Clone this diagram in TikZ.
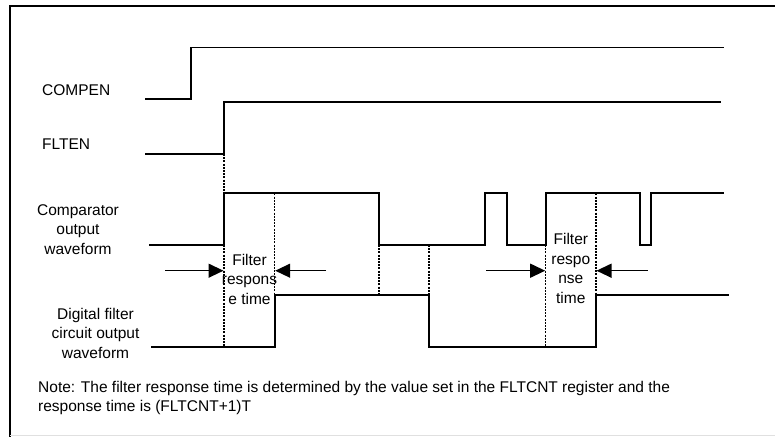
\documentclass[tikz,border=0pt]{standalone}
\usepackage{fontspec}
\setmainfont{Liberation Sans}
\usetikzlibrary{arrows.meta}
\begin{document}
\begin{tikzpicture}[x=1pt,y=-1pt,
  wave/.style={line width=1.7pt, line join=miter},
  guide/.style={line width=1.2pt, dash pattern=on 2pt off 1.2pt},
  lbl/.style={font=\fontsize{15.5}{19.5}\selectfont, inner sep=0pt, align=center},
  meas/.style={line width=1.3pt, -{Triangle[length=15pt,width=14pt]}},
]
\useasboundingbox (0,0) rectangle (775,436);
\draw[line width=2.3pt] (10,437) -- (10,6) -- (776,6);
\draw[black!12, line width=0.8pt] (10,435.5) -- (775,435.5);

% COMPEN
\draw[wave] (145,99) -- (191,99) -- (191,47.5) -- (724,47.5);
% FLTEN
\draw[wave] (145,153.7) -- (224,153.7) -- (224,102) -- (721,102);
% comparator output
\draw[wave] (149,245) -- (224,245) -- (224,193.3) -- (379,193.3) -- (379,245)
  -- (485,245) -- (485,193.3) -- (507,193.3) -- (507,245) -- (545.7,245)
  -- (545.7,193.3) -- (640.3,193.3) -- (640.3,245) -- (651.3,245)
  -- (651.3,193.3) -- (724,193.3);
% digital filter output
\draw[wave] (151,346.7) -- (274.7,346.7) -- (274.7,295.3) -- (429,295.3)
  -- (429,346.7) -- (596,346.7) -- (596,295.3) -- (729,295.3);

% guides
\draw[guide] (224,154) -- (224,193.3);
\draw[guide] (224,245) -- (224,346.7);
\draw[guide] (274.7,193.3) -- (274.7,295.3);
\draw[guide] (379,245) -- (379,295.3);
\draw[guide] (429,245) -- (429,295.3);
\draw[guide] (545.7,245) -- (545.7,346.7);
\draw[guide] (596,193.3) -- (596,295.3);

% labels
\node[lbl, anchor=west] (compen) at (42,90) {COMPEN};
\node[lbl, anchor=west] (flten) at (42,144) {FLTEN};
\node[lbl] (comp) at (78,229.5) {Comparator\\output\\waveform};
\node[lbl] (dig) at (95.5,333) {Digital filter\\circuit output\\waveform};
\node[lbl] (fl) at (249.5,279.3) {Filter\\respons\\e time};
\node[lbl] (fr) at (570.8,268.5) {Filter\\respo\\nse\\time};
\node[lbl, anchor=west, align=left] (note) at (38,398)
  {Note: The filter response time is determined by the value set in the FLTCNT register and the\\response time is (FLTCNT+1)T};

% measurement arrows
\coordinate (a1s) at (165,270.7);
\coordinate (a1e) at (223.5,270.7);
\coordinate (a2s) at (326,270.7);
\coordinate (a2e) at (275.2,270.7);
\coordinate (a3s) at (486,270.7);
\coordinate (a3e) at (545.2,270.7);
\coordinate (a4s) at (647.7,270.7);
\coordinate (a4e) at (596.5,270.7);
\draw[meas] (a1s) -- (a1e);
\draw[meas] (a2s) -- (a2e);
\draw[meas] (a3s) -- (a3e);
\draw[meas] (a4s) -- (a4e);
\end{tikzpicture}
\end{document}
